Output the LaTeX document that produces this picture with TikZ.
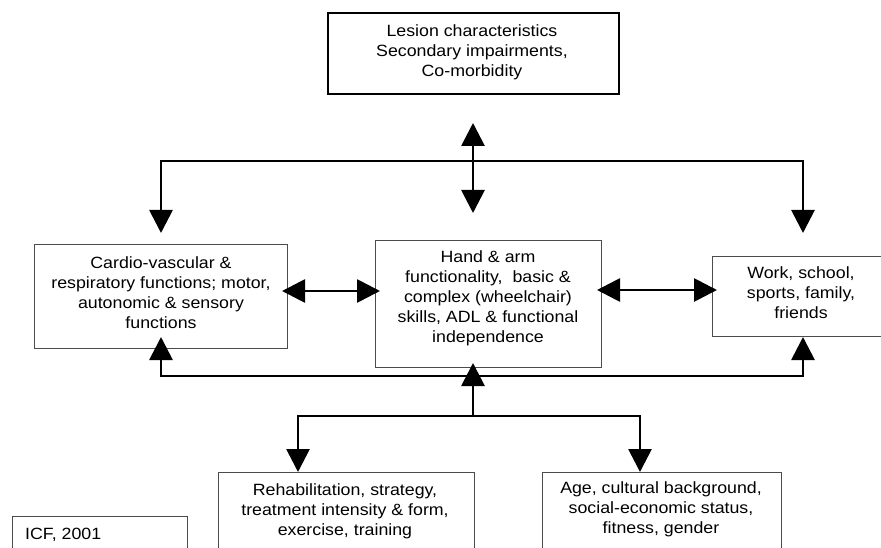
\documentclass[tikz,border=0pt]{standalone}
\usepackage{fontspec}
\setmainfont{Liberation Sans}[FakeStretch=1.09]
\usetikzlibrary{arrows.meta}
\begin{document}
\begin{tikzpicture}[x=1pt,y=-1pt,
  box/.style={draw=black!70, line width=1.3pt, fill=white, anchor=north west, inner sep=0pt},
  txt/.style={align=center, inner sep=0pt, font=\fontsize{16.3}{20}\selectfont},
  conn/.style={line width=2.8pt, line join=miter},
  tip/.style={-{Triangle[length=23pt,width=23pt]}},
  dbl/.style={{Triangle[length=23pt,width=23pt]}-{Triangle[length=23pt,width=23pt]}}
]
\clip (0,0) rectangle (881,548);
\fill[white] (0,0) rectangle (881,548);

% boxes
\node[box, draw=black, line width=1.8pt, minimum width=291pt, minimum height=81pt] (top) at (327,12) {};
\node[box, minimum width=253pt, minimum height=104pt] (left) at (34,244) {};
\node[box, minimum width=226pt, minimum height=127pt] (mid) at (375,240) {};
\node[box, minimum width=178pt, minimum height=80pt] (right) at (712,256) {};
\node[box, minimum width=256pt, minimum height=120pt] (rehab) at (218,472) {};
\node[box, minimum width=239pt, minimum height=120pt] (age) at (542,472) {};
\node[box, minimum width=175pt, minimum height=60pt] (icf) at (12,516) {};

% texts
\node[txt] (ttop) at (472,52) {Lesion characteristics\\Secondary impairments,\\Co-morbidity};
\node[txt] (tleft) at (161,293) {Cardio-vascular \&\\respiratory functions; motor,\\autonomic \& sensory\\functions};
\node[txt] (tmid) at (488,298) {Hand \& arm\\functionality,\ \ basic \&\\complex (wheelchair)\\skills, ADL \& functional\\independence};
\node[txt] (tright) at (801,293) {Work, school,\\sports, family,\\friends};
\node[txt] (trehab) at (345,511) {Rehabilitation, strategy,\\treatment intensity \& form,\\exercise, training};
\node[txt] (tage) at (661,509) {Age, cultural background,\\social-economic status,\\fitness, gender};
\node[txt, anchor=west] (ticf) at (25,535) {ICF, 2001};

% connector points
\coordinate (upT) at (473,123);
\coordinate (dnT) at (473,213);
\coordinate (aL) at (161,233);
\coordinate (hL) at (161,161);
\coordinate (hR) at (803,161);
\coordinate (aR) at (803,233);
\coordinate (lE) at (282,291);
\coordinate (mW) at (380,291);
\coordinate (mE) at (597,290);
\coordinate (rW) at (717,290);
\coordinate (bL) at (161,337);
\coordinate (gL) at (161,376);
\coordinate (gR) at (803,376);
\coordinate (bR) at (803,337);
\coordinate (mS) at (473,363);
\coordinate (jB) at (473,416);
\coordinate (kL) at (298,416);
\coordinate (kR) at (640,416);
\coordinate (rT) at (298,472);
\coordinate (aT) at (640,472);

% connectors
\draw[conn,dbl] (upT) -- (dnT);
\draw[conn,dbl] (aL) -- (hL) -- (hR) -- (aR);
\draw[conn,dbl] (lE) -- (mW);
\draw[conn,dbl] (mE) -- (rW);
\draw[conn,dbl] (bL) -- (gL) -- (gR) -- (bR);
\draw[conn,tip] (jB) -- (mS);
\draw[conn,dbl] (rT) -- (kL) -- (kR) -- (aT);
\end{tikzpicture}
\end{document}
